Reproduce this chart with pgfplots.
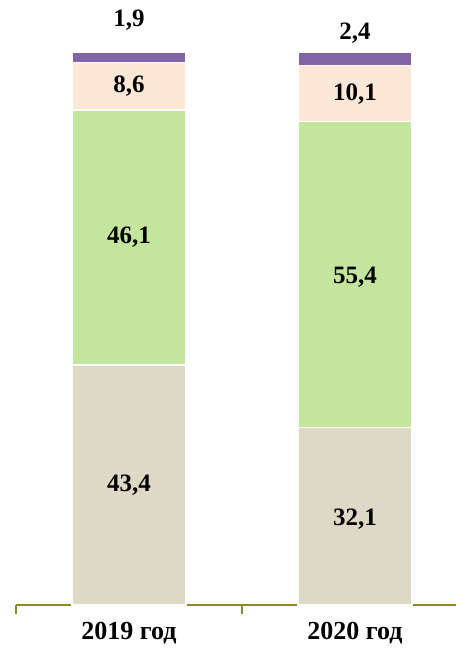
\documentclass[border=0pt]{standalone}
\usepackage{pgfplots}
\pgfplotsset{compat=1.18}
\usepackage{fontspec}
\setmainfont{Liberation Serif}

\definecolor{cBeige}{RGB}{221,217,196}
\definecolor{cGreen}{RGB}{196,229,157}
\definecolor{cPeach}{RGB}{253,232,216}
\definecolor{cPurple}{RGB}{128,100,166}
\definecolor{cAxis}{RGB}{140,140,30}

\newcommand{\vfont}{\bfseries\fontsize{25}{29}\selectfont}

\begin{document}
\begin{tikzpicture}
\begin{axis}[
    ybar stacked,
    bar width=114pt,
    scale only axis,
    width=440pt, height=605pt,
    xmin=-0.5, xmax=1.447,
    ymin=0, ymax=109.4,
    axis x line*=bottom,
    axis y line=none,
    x axis line style={cAxis, line width=1.5pt, -},
    xtick={0,1},
    xticklabels={2019 год, 2020 год},
    major tick length=0pt,
    extra x ticks={-0.5,0.5},
    extra x tick labels={},
    extra x tick style={major tick length=9pt, tick align=outside,
        tick style={cAxis, line width=1.5pt}},
    xticklabel style={font=\bfseries\fontsize{26}{30}\selectfont, anchor=center, yshift=-28pt},
    clip=false,
    every axis plot/.append style={draw=white, line width=1.2pt},
]
\addplot[fill=cBeige]  coordinates {(0,43.4) (1,32.1)};
\addplot[fill=cGreen]  coordinates {(0,46.1) (1,55.4)};
\addplot[fill=cPeach]  coordinates {(0,8.6)  (1,10.1)};
\addplot[fill=cPurple] coordinates {(0,1.9)  (1,2.4)};

\coordinate (a1) at (axis cs:0,21.7);
\coordinate (a2) at (axis cs:0,66.45);
\coordinate (a3) at (axis cs:0,93.8);
\coordinate (a4) at (axis cs:0,105.8);
\coordinate (b1) at (axis cs:1,15.6);
\coordinate (b2) at (axis cs:1,59.3);
\coordinate (b3) at (axis cs:1,92.3);
\coordinate (b4) at (axis cs:1,103.4);
\coordinate (O) at (rel axis cs:0,0);
\end{axis}
\node[font=\vfont] at (a1) {43,4};
\node[font=\vfont] at (a2) {46,1};
\node[font=\vfont] at (a3) {8,6};
\node[font=\vfont] at (a4) {1,9};
\node[font=\vfont] at (b1) {32,1};
\node[font=\vfont] at (b2) {55,4};
\node[font=\vfont] at (b3) {10,1};
\node[font=\vfont] at (b4) {2,4};
\pgfresetboundingbox
\path (O) ++(-16pt,-43pt) rectangle ++(456pt,648pt);
\end{tikzpicture}
\end{document}
